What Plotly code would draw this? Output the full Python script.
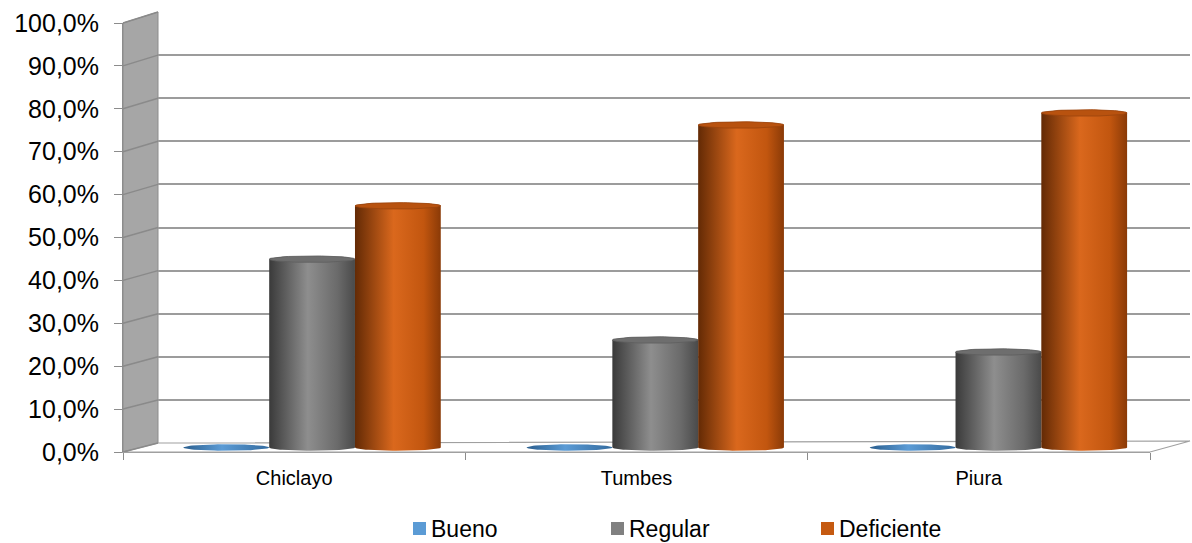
import numpy as np
import plotly.graph_objects as go

# ---- data -------------------------------------------------------------
categories = ["Chiclayo", "Tumbes", "Piura"]
series_names = ["Bueno", "Regular", "Deficiente"]
bueno = [0.0, 0.0, 0.0]
regular = [43.8, 25.0, 22.2]
deficiente = [56.2, 75.0, 77.8]
y_ticks = [0, 10, 20, 30, 40, 50, 60, 70, 80, 90, 100]

series_values = [bueno, regular, deficiente]
y_tick_text = [f"{t:.1f}".replace(".", ",") + "%" for t in y_ticks]

# ---- styling ----------------------------------------------------------
legend_colors = ["#5B9BD5", "#808080", "#C55A11"]
body_scales = [
    [[0, "#2A5E8E"], [0.45, "#5B9BD5"], [1, "#336B9F"]],
    [[0, "#3A3A3A"], [0.45, "#8E8E8E"], [0.8, "#6A6A6A"], [1, "#4A4A4A"]],
    [[0, "#632A05"], [0.45, "#DA681D"], [0.8, "#C2560F"], [1, "#8A3A07"]],
]
top_colors = ["#4A84BE", "#6E6E6E", "#B8520F"]
top_lines = ["#3A6EA0", "#5E5E5E", "#9A440C"]

FONT = "Liberation Sans, Arial, sans-serif"
W, H = 1192, 543

# pixel boxes (left, right, top=100 %, bottom=0 %) of the depth planes
BACK = (158, 1190, 12, 443)
FRONT = (123, 1150, 23, 452)
MID = tuple((b + f) / 2 for b, f in zip(BACK, FRONT))
Y_MIN_MID = -3.0          # room below the floor for the rounded bar bottoms
ELL_RY = 0.75             # half height of the cylinder ellipses (% units)
HALF_W = 0.125            # half width of one cylinder (category units)
OFFSETS = [-0.25, 0.0, 0.25]

# legend layout (pixels)
LEGEND_Y = 528.5
LEGEND_X = [413, 611, 821]
LEGEND_BOX = 13
LEGEND_GAP = 4


def px_x(p):
    return p / W


def px_y(p):
    return 1 - p / H


def dom_x(box):
    return [px_x(box[0]), px_x(box[1])]


def dom_y(box, ymin=0.0):
    scale = (box[3] - box[2]) / 100.0
    return [px_y(box[3] - ymin * scale), px_y(box[2])]


fig = go.Figure()

# anchor traces so every axis set gets built
fig.add_trace(go.Scatter(x=[0, 2], y=[None, None], xaxis="x", yaxis="y",
                         showlegend=False, hoverinfo="skip"))
fig.add_trace(go.Scatter(x=categories, y=[None] * 3, xaxis="x3", yaxis="y3",
                         showlegend=False, hoverinfo="skip"))

# ---- cylinders ---------------------------------------------------------
t_bottom = np.linspace(np.pi, 2 * np.pi, 40)
t_top = np.linspace(0, np.pi, 40)
t_full = np.linspace(0, 2 * np.pi, 80)

for ci, cat in enumerate(categories):
    for si, vals in enumerate(series_values):
        v = vals[ci]
        c = ci + OFFSETS[si]
        bx = np.concatenate([c + HALF_W * np.cos(t_bottom), c + HALF_W * np.cos(t_top), [c - HALF_W]])
        by = np.concatenate([ELL_RY * np.sin(t_bottom), v + ELL_RY * np.sin(t_top), [0]])
        fig.add_trace(go.Scatter(
            x=bx, y=by, xaxis="x2", yaxis="y2", mode="lines", fill="toself",
            line=dict(width=0), fillgradient=dict(type="horizontal", colorscale=body_scales[si]),
            name=series_names[si], showlegend=False, hoverinfo="skip"))
        if v > 0:
            fig.add_trace(go.Scatter(
                x=c + HALF_W * np.cos(t_full), y=v + ELL_RY * np.sin(t_full),
                xaxis="x2", yaxis="y2", mode="lines", fill="toself",
                fillcolor=top_colors[si], line=dict(width=0.8, color=top_lines[si]),
                name=series_names[si], showlegend=False, hoverinfo="skip"))

# ---- 3D frame: left wall and floor --------------------------------------
shapes = []
annotations = []
fb_l, fb_r, fb_t, fb_b = FRONT
bb_l, bb_r, bb_t, bb_b = BACK
wall_path = (f"M{px_x(fb_l)},{px_y(fb_t)} L{px_x(bb_l)},{px_y(bb_t)} "
             f"L{px_x(bb_l)},{px_y(bb_b)} L{px_x(fb_l)},{px_y(fb_b)} Z")
shapes.append(dict(type="path", xref="paper", yref="paper", path=wall_path,
                   fillcolor="#A6A6A6", line=dict(color="#8C8C8C", width=1), layer="below"))
floor_path = (f"M{px_x(fb_l)},{px_y(fb_b)} L{px_x(bb_l)},{px_y(bb_b)} "
              f"L{px_x(bb_r)},{px_y(bb_b - 2)} L{px_x(fb_r)},{px_y(fb_b)} Z")
shapes.append(dict(type="path", xref="paper", yref="paper", path=floor_path,
                   fillcolor="#FFFFFF", line=dict(color="#A0A0A0", width=1.2), layer="below"))
for t in y_ticks:
    yf = fb_b - (fb_b - fb_t) * t / 100
    yb = bb_b - (bb_b - bb_t) * t / 100
    shapes.append(dict(type="line", xref="paper", yref="paper",
                       x0=px_x(fb_l), y0=px_y(yf), x1=px_x(bb_l), y1=px_y(yb),
                       line=dict(color="#8A8A8A", width=1.5), layer="below"))

# ---- legend -------------------------------------------------------------
for name, col, lx in zip(series_names, legend_colors, LEGEND_X):
    shapes.append(dict(type="rect", xref="paper", yref="paper",
                       x0=px_x(lx), x1=px_x(lx + LEGEND_BOX),
                       y0=px_y(LEGEND_Y + LEGEND_BOX / 2), y1=px_y(LEGEND_Y - LEGEND_BOX / 2),
                       fillcolor=col, line=dict(width=0)))
    annotations.append(dict(xref="paper", yref="paper", x=px_x(lx + LEGEND_BOX + LEGEND_GAP),
                            y=px_y(LEGEND_Y), xanchor="left", yanchor="middle",
                            text=name, showarrow=False, borderpad=0,
                            font=dict(size=23, family=FONT, color="#000000")))

axis_common = dict(showgrid=False, zeroline=False, automargin=False)
fig.update_layout(
    width=W, height=H, autosize=False,
    margin=dict(l=0, r=0, t=0, b=0, pad=0),
    paper_bgcolor="white", plot_bgcolor="rgba(0,0,0,0)",
    font=dict(family=FONT, color="#000000"),
    shapes=shapes,
    annotations=annotations,
    showlegend=False,
    # back wall with gridlines
    xaxis=dict(domain=dom_x(BACK), range=[-0.5, 2.5], visible=False, anchor="y", automargin=False),
    yaxis=dict(domain=dom_y(BACK), range=[0, 100], anchor="x", showgrid=True,
               gridcolor="#9C9C9C", gridwidth=1.6, dtick=10, zeroline=False,
               showticklabels=False, ticks="", showline=False, automargin=False),
    # middle plane holding the cylinders
    xaxis2=dict(domain=dom_x(MID), range=[-0.5, 2.5], visible=False, anchor="y2", **axis_common),
    yaxis2=dict(domain=dom_y(MID, Y_MIN_MID), range=[Y_MIN_MID, 100], visible=False,
                anchor="x2", **axis_common),
    # front plane: tick labels
    xaxis3=dict(domain=dom_x(FRONT), type="category", categoryorder="array",
                categoryarray=categories, range=[-0.5, 2.5], anchor="y3",
                tickson="boundaries", ticks="outside", ticklen=7, tickcolor="#8C8C8C",
                showline=True, linecolor="#A0A0A0", linewidth=1.2, ticklabelstandoff=8,
                tickfont=dict(size=20, family=FONT), **axis_common),
    yaxis3=dict(domain=dom_y(FRONT), range=[0, 100], anchor="x3",
                tickmode="array", tickvals=y_ticks, ticktext=y_tick_text,
                ticks="outside", ticklen=8, tickcolor="#8C8C8C",
                showline=True, linecolor="#8C8C8C", linewidth=1, ticklabelstandoff=10,
                tickfont=dict(size=25, family=FONT), **axis_common),
)

fig.write_html("out.html")
